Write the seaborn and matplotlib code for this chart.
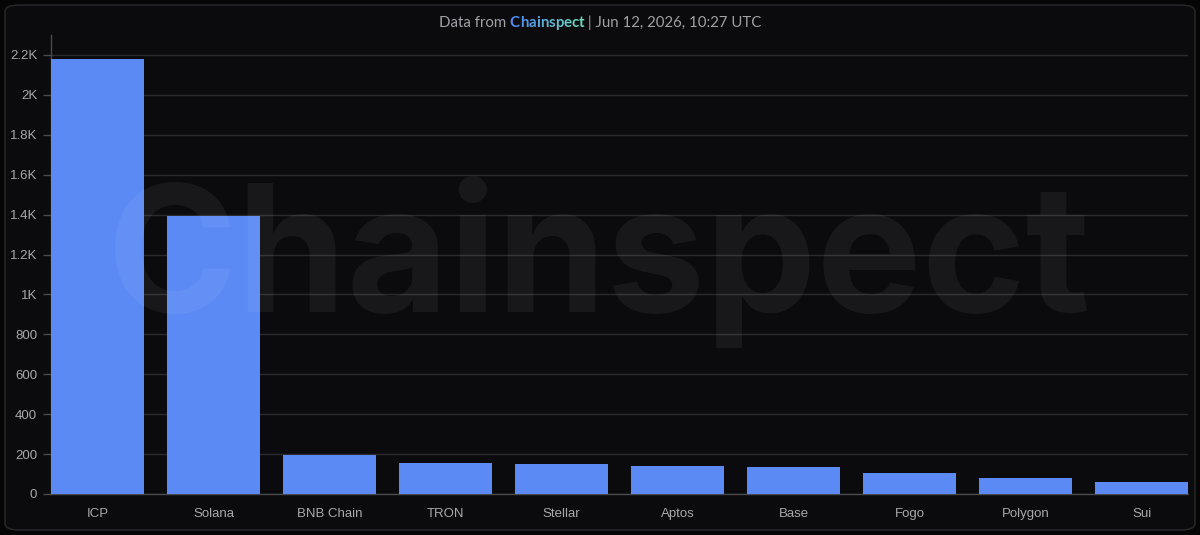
import matplotlib
matplotlib.use("Agg")
import matplotlib.pyplot as plt
import seaborn as sns
import pandas as pd
from matplotlib.patches import FancyBboxPatch
import numpy as np

chains = ["ICP", "Solana", "BNB Chain", "TRON", "Stellar", "Aptos", "Base", "Fogo", "Polygon", "Sui"]
values = [2180, 1395, 195, 155, 150, 138, 135, 107, 80, 60]
ytick_values = [0, 200, 400, 600, 800, 1000, 1200, 1400, 1600, 1800, 2000, 2200]
ytick_labels = ["0", "200", "400", "600", "800", "1K", "1.2K", "1.4K", "1.6K", "1.8K", "2K", "2.2K"]

BG = "#0b0b0d"
BAR = "#5b8af5"
GRID = "#2b2b2e"
TXT = "#a8a8ad"

sns.set_theme(style="dark")
plt.rcParams["font.family"] = ["Liberation Sans", "DejaVu Sans"]

fig = plt.figure(figsize=(12, 5.35), dpi=100, facecolor="#050506")
# card
card = FancyBboxPatch((5/1200, 5/535), 1190/1200, 525/535,
                      boxstyle="round,pad=0,rounding_size=0.012",
                      transform=fig.transFigure, facecolor=BG, edgecolor="#2a2a2d",
                      linewidth=1.0, zorder=-10)
fig.patches.append(card)

ax = fig.add_axes([51/1200, 1 - 494/535, (1188 - 51)/1200, (494 - 35)/535])
ax.set_facecolor("none")

df = pd.DataFrame({"chain": chains, "value": values})
sns.barplot(data=df, x="chain", y="value", color=BAR, saturation=1, width=0.8, ax=ax, zorder=3)
for p in ax.patches:
    p.set_edgecolor("none")

ax.set_xlim(-0.4, len(chains) - 1 + 0.4)
ax.set_ylim(0, 2300)
ax.set_yticks(ytick_values)
ax.set_yticklabels(ytick_labels)
ax.set_xlabel("")
ax.set_ylabel("")
ax.grid(axis="y", color=GRID, linewidth=1.0, zorder=0)
ax.grid(axis="x", visible=False)
ax.set_axisbelow(True)
for s in ["top", "right"]:
    ax.spines[s].set_visible(False)
ax.spines["left"].set_color("#4a4a4e")
ax.spines["bottom"].set_color("#4a4a4e")
ax.spines["left"].set_linewidth(1.0)
ax.spines["bottom"].set_linewidth(1.0)
ax.tick_params(axis="y", colors="#4a4a4e", labelcolor=TXT, labelsize=9.5, length=6, width=1, left=True, pad=4)
ax.tick_params(axis="x", colors="#4a4a4e", labelcolor=TXT, labelsize=9.5, length=0, pad=10)

# watermark
fig.text(0.499, 0.51, "Chainspect", fontsize=127, fontweight="bold", family=["Inter", "DejaVu Sans"],
         color="white", alpha=0.055, ha="center", va="center", zorder=10)

# title
fig.canvas.draw()
renderer = fig.canvas.get_renderer()
parts = [("Data from ", "#a0a0a6", "normal"), ("Chainspect", None, "bold"), (" | Jun 12, 2026, 10:27 UTC", "#a0a0a6", "normal")]
fs = 10.8
fam = ["Lato", "DejaVu Sans"]
widths = []
for t, c, w in parts:
    tt = fig.text(0, 0, t, fontsize=fs, fontweight=w, family=fam)
    bb = tt.get_window_extent(renderer)
    widths.append(bb.width)
    tt.remove()
total = sum(widths)
x = 600 - total / 2
y = 535 - 23
c1 = np.array([0x4f, 0x8e, 0xf0]) / 255
c2 = np.array([0x6f, 0xd8, 0xb8]) / 255
for (t, c, w), wd in zip(parts, widths):
    if c is not None:
        fig.text(x / 1200, y / 535, t, fontsize=fs, fontweight=w, family=fam, color=c, va="center", ha="left")
    else:
        xx = x
        n = len(t)
        for i, ch in enumerate(t):
            col = c1 + (c2 - c1) * (i / (n - 1))
            fig.text(xx / 1200, y / 535, ch, fontsize=fs, fontweight=w, family=fam, color=col, va="center", ha="left")
            pre = fig.text(0, 0, t[: i + 1], fontsize=fs, fontweight=w, family=fam)
            pw = pre.get_window_extent(renderer).width
            pre.remove()
            xx = x + pw
    x += wd

fig.savefig("out.png", dpi=100, facecolor=fig.get_facecolor())
